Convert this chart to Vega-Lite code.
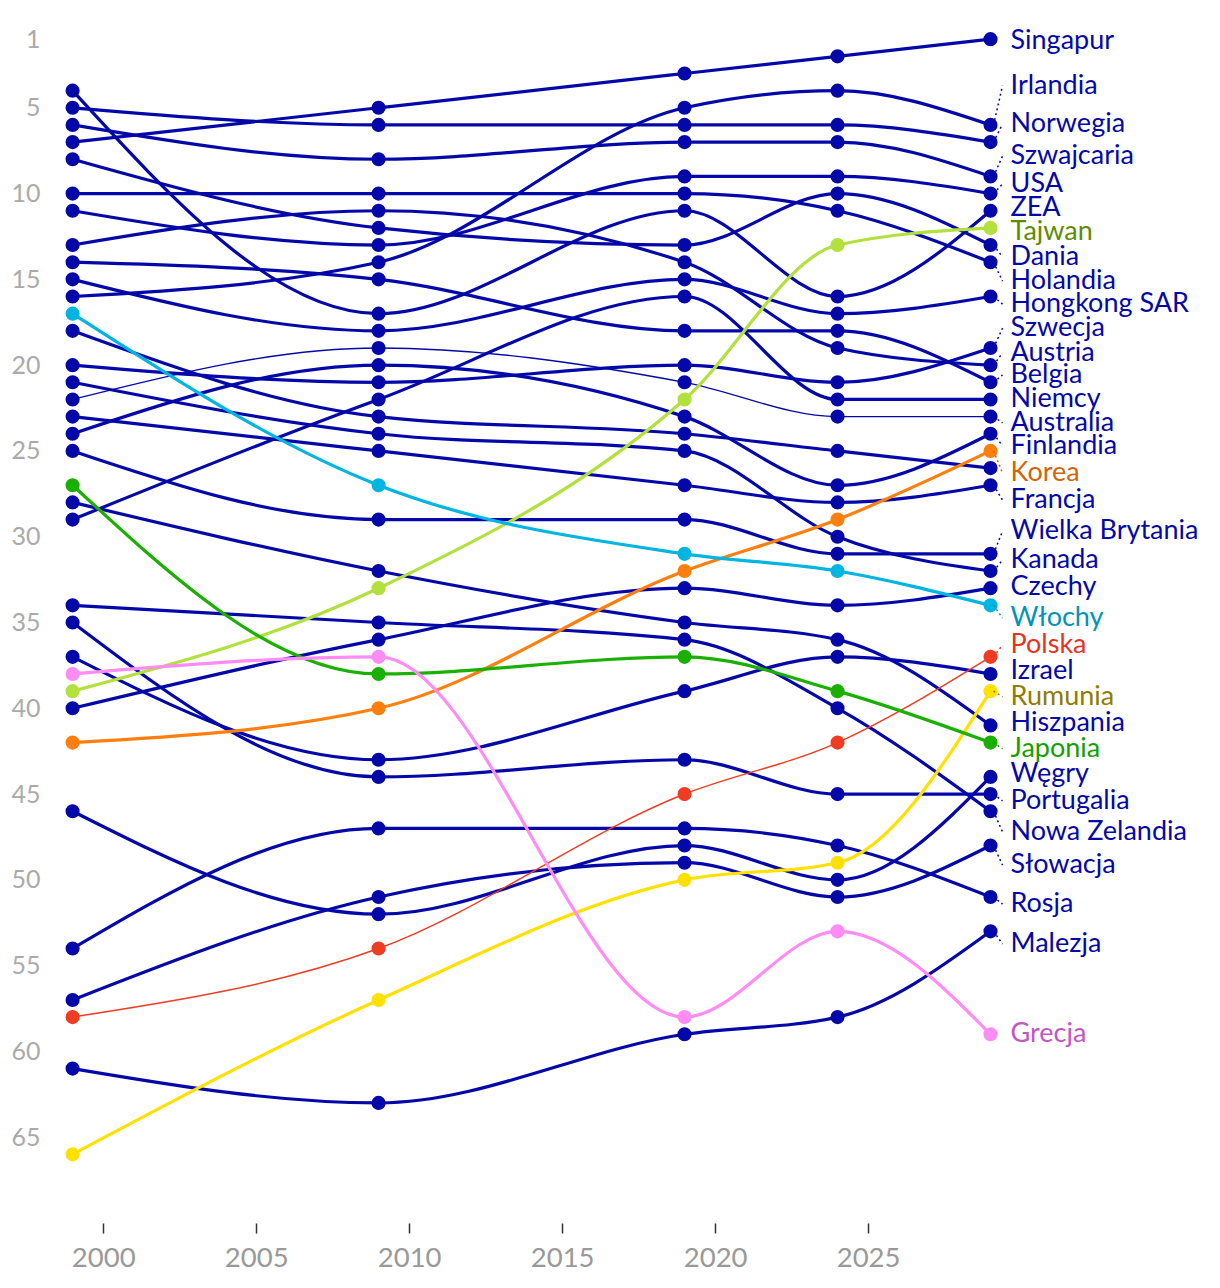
{
"$schema":"https://vega.github.io/schema/vega-lite/v6.json",
"width":1178,"height":1201,
"autosize":{"type":"none"},
"padding":{"left":42,"top":22,"right":0,"bottom":65},
"background":"white",
"config":{"view":{"stroke":null},"font":"Lato"},
"datasets":{
"ranks":[
{"country":"Singapur","year":1999,"rank":7},{"country":"Singapur","year":2009,"rank":5},{"country":"Singapur","year":2019,"rank":3},{"country":"Singapur","year":2024,"rank":2},{"country":"Singapur","year":2029,"rank":1},
{"country":"Irlandia","year":1999,"rank":16},{"country":"Irlandia","year":2009,"rank":14},{"country":"Irlandia","year":2019,"rank":5},{"country":"Irlandia","year":2024,"rank":4},{"country":"Irlandia","year":2029,"rank":6},
{"country":"Norwegia","year":1999,"rank":5},{"country":"Norwegia","year":2009,"rank":6},{"country":"Norwegia","year":2019,"rank":6},{"country":"Norwegia","year":2024,"rank":6},{"country":"Norwegia","year":2029,"rank":7},
{"country":"Szwajcaria","year":1999,"rank":6},{"country":"Szwajcaria","year":2009,"rank":8},{"country":"Szwajcaria","year":2019,"rank":7},{"country":"Szwajcaria","year":2024,"rank":7},{"country":"Szwajcaria","year":2029,"rank":9},
{"country":"USA","year":1999,"rank":11},{"country":"USA","year":2009,"rank":13},{"country":"USA","year":2019,"rank":9},{"country":"USA","year":2024,"rank":9},{"country":"USA","year":2029,"rank":10},
{"country":"ZEA","year":1999,"rank":4},{"country":"ZEA","year":2009,"rank":17},{"country":"ZEA","year":2019,"rank":11},{"country":"ZEA","year":2024,"rank":16},{"country":"ZEA","year":2029,"rank":11},
{"country":"Tajwan","year":1999,"rank":39},{"country":"Tajwan","year":2009,"rank":33},{"country":"Tajwan","year":2019,"rank":22},{"country":"Tajwan","year":2024,"rank":13},{"country":"Tajwan","year":2029,"rank":12},
{"country":"Dania","year":1999,"rank":8},{"country":"Dania","year":2009,"rank":12},{"country":"Dania","year":2019,"rank":13},{"country":"Dania","year":2024,"rank":10},{"country":"Dania","year":2029,"rank":13},
{"country":"Holandia","year":1999,"rank":10},{"country":"Holandia","year":2009,"rank":10},{"country":"Holandia","year":2019,"rank":10},{"country":"Holandia","year":2024,"rank":11},{"country":"Holandia","year":2029,"rank":14},
{"country":"Hongkong SAR","year":1999,"rank":15},{"country":"Hongkong SAR","year":2009,"rank":18},{"country":"Hongkong SAR","year":2019,"rank":15},{"country":"Hongkong SAR","year":2024,"rank":17},{"country":"Hongkong SAR","year":2029,"rank":16},
{"country":"Szwecja","year":1999,"rank":20},{"country":"Szwecja","year":2009,"rank":21},{"country":"Szwecja","year":2019,"rank":20},{"country":"Szwecja","year":2024,"rank":21},{"country":"Szwecja","year":2029,"rank":19},
{"country":"Austria","year":1999,"rank":13},{"country":"Austria","year":2009,"rank":11},{"country":"Austria","year":2019,"rank":14},{"country":"Austria","year":2024,"rank":19},{"country":"Austria","year":2029,"rank":20},
{"country":"Belgia","year":1999,"rank":14},{"country":"Belgia","year":2009,"rank":15},{"country":"Belgia","year":2019,"rank":18},{"country":"Belgia","year":2024,"rank":18},{"country":"Belgia","year":2029,"rank":21},
{"country":"Niemcy","year":1999,"rank":29},{"country":"Niemcy","year":2009,"rank":22},{"country":"Niemcy","year":2019,"rank":16},{"country":"Niemcy","year":2024,"rank":22},{"country":"Niemcy","year":2029,"rank":22},
{"country":"Australia","year":1999,"rank":22},{"country":"Australia","year":2009,"rank":19},{"country":"Australia","year":2019,"rank":21},{"country":"Australia","year":2024,"rank":23},{"country":"Australia","year":2029,"rank":23},
{"country":"Finlandia","year":1999,"rank":24},{"country":"Finlandia","year":2009,"rank":20},{"country":"Finlandia","year":2019,"rank":23},{"country":"Finlandia","year":2024,"rank":27},{"country":"Finlandia","year":2029,"rank":24},
{"country":"Korea","year":1999,"rank":42},{"country":"Korea","year":2009,"rank":40},{"country":"Korea","year":2019,"rank":32},{"country":"Korea","year":2024,"rank":29},{"country":"Korea","year":2029,"rank":25},
{"country":"Inny kraj","year":1999,"rank":18},{"country":"Inny kraj","year":2009,"rank":23},{"country":"Inny kraj","year":2019,"rank":24},{"country":"Inny kraj","year":2024,"rank":25},{"country":"Inny kraj","year":2029,"rank":26},
{"country":"Francja","year":1999,"rank":23},{"country":"Francja","year":2009,"rank":25},{"country":"Francja","year":2019,"rank":27},{"country":"Francja","year":2024,"rank":28},{"country":"Francja","year":2029,"rank":27},
{"country":"Wielka Brytania","year":1999,"rank":25},{"country":"Wielka Brytania","year":2009,"rank":29},{"country":"Wielka Brytania","year":2019,"rank":29},{"country":"Wielka Brytania","year":2024,"rank":31},{"country":"Wielka Brytania","year":2029,"rank":31},
{"country":"Kanada","year":1999,"rank":21},{"country":"Kanada","year":2009,"rank":24},{"country":"Kanada","year":2019,"rank":25},{"country":"Kanada","year":2024,"rank":30},{"country":"Kanada","year":2029,"rank":32},
{"country":"Czechy","year":1999,"rank":40},{"country":"Czechy","year":2009,"rank":36},{"country":"Czechy","year":2019,"rank":33},{"country":"Czechy","year":2024,"rank":34},{"country":"Czechy","year":2029,"rank":33},
{"country":"Włochy","year":1999,"rank":17},{"country":"Włochy","year":2009,"rank":27},{"country":"Włochy","year":2019,"rank":31},{"country":"Włochy","year":2024,"rank":32},{"country":"Włochy","year":2029,"rank":34},
{"country":"Polska","year":1999,"rank":58},{"country":"Polska","year":2009,"rank":54},{"country":"Polska","year":2019,"rank":45},{"country":"Polska","year":2024,"rank":42},{"country":"Polska","year":2029,"rank":37},
{"country":"Izrael","year":1999,"rank":37},{"country":"Izrael","year":2009,"rank":43},{"country":"Izrael","year":2019,"rank":39},{"country":"Izrael","year":2024,"rank":37},{"country":"Izrael","year":2029,"rank":38},
{"country":"Rumunia","year":1999,"rank":66},{"country":"Rumunia","year":2009,"rank":57},{"country":"Rumunia","year":2019,"rank":50},{"country":"Rumunia","year":2024,"rank":49},{"country":"Rumunia","year":2029,"rank":39},
{"country":"Hiszpania","year":1999,"rank":28},{"country":"Hiszpania","year":2009,"rank":32},{"country":"Hiszpania","year":2019,"rank":35},{"country":"Hiszpania","year":2024,"rank":36},{"country":"Hiszpania","year":2029,"rank":41},
{"country":"Japonia","year":1999,"rank":27},{"country":"Japonia","year":2009,"rank":38},{"country":"Japonia","year":2019,"rank":37},{"country":"Japonia","year":2024,"rank":39},{"country":"Japonia","year":2029,"rank":42},
{"country":"Węgry","year":1999,"rank":46},{"country":"Węgry","year":2009,"rank":52},{"country":"Węgry","year":2019,"rank":48},{"country":"Węgry","year":2024,"rank":50},{"country":"Węgry","year":2029,"rank":44},
{"country":"Portugalia","year":1999,"rank":35},{"country":"Portugalia","year":2009,"rank":44},{"country":"Portugalia","year":2019,"rank":43},{"country":"Portugalia","year":2024,"rank":45},{"country":"Portugalia","year":2029,"rank":45},
{"country":"Nowa Zelandia","year":1999,"rank":34},{"country":"Nowa Zelandia","year":2009,"rank":35},{"country":"Nowa Zelandia","year":2019,"rank":36},{"country":"Nowa Zelandia","year":2024,"rank":40},{"country":"Nowa Zelandia","year":2029,"rank":46},
{"country":"Słowacja","year":1999,"rank":57},{"country":"Słowacja","year":2009,"rank":51},{"country":"Słowacja","year":2019,"rank":49},{"country":"Słowacja","year":2024,"rank":51},{"country":"Słowacja","year":2029,"rank":48},
{"country":"Rosja","year":1999,"rank":54},{"country":"Rosja","year":2009,"rank":47},{"country":"Rosja","year":2019,"rank":47},{"country":"Rosja","year":2024,"rank":48},{"country":"Rosja","year":2029,"rank":51},
{"country":"Malezja","year":1999,"rank":61},{"country":"Malezja","year":2009,"rank":63},{"country":"Malezja","year":2019,"rank":59},{"country":"Malezja","year":2024,"rank":58},{"country":"Malezja","year":2029,"rank":53},
{"country":"Grecja","year":1999,"rank":38},{"country":"Grecja","year":2009,"rank":37},{"country":"Grecja","year":2019,"rank":58},{"country":"Grecja","year":2024,"rank":53},{"country":"Grecja","year":2029,"rank":59}
],
"labels":[
{"country":"Singapur","year":2029,"rank":1,"labelRank":1.09},
{"country":"Irlandia","year":2029,"rank":6,"labelRank":3.71},
{"country":"Norwegia","year":2029,"rank":7,"labelRank":5.95},
{"country":"Szwajcaria","year":2029,"rank":9,"labelRank":7.81},
{"country":"USA","year":2029,"rank":10,"labelRank":9.44},
{"country":"ZEA","year":2029,"rank":11,"labelRank":10.84},
{"country":"Tajwan","year":2029,"rank":12,"labelRank":12.24},
{"country":"Dania","year":2029,"rank":13,"labelRank":13.7},
{"country":"Holandia","year":2029,"rank":14,"labelRank":15.1},
{"country":"Hongkong SAR","year":2029,"rank":16,"labelRank":16.44},
{"country":"Szwecja","year":2029,"rank":19,"labelRank":17.84},
{"country":"Austria","year":2029,"rank":20,"labelRank":19.29},
{"country":"Belgia","year":2029,"rank":21,"labelRank":20.57},
{"country":"Niemcy","year":2029,"rank":22,"labelRank":21.97},
{"country":"Australia","year":2029,"rank":23,"labelRank":23.37},
{"country":"Finlandia","year":2029,"rank":24,"labelRank":24.71},
{"country":"Korea","year":2029,"rank":25,"labelRank":26.29},
{"country":"Francja","year":2029,"rank":27,"labelRank":27.86},
{"country":"Wielka Brytania","year":2029,"rank":31,"labelRank":29.67},
{"country":"Kanada","year":2029,"rank":32,"labelRank":31.36},
{"country":"Czechy","year":2029,"rank":33,"labelRank":32.93},
{"country":"Włochy","year":2029,"rank":34,"labelRank":34.74},
{"country":"Polska","year":2029,"rank":37,"labelRank":36.31},
{"country":"Izrael","year":2029,"rank":38,"labelRank":37.83},
{"country":"Rumunia","year":2029,"rank":39,"labelRank":39.34},
{"country":"Hiszpania","year":2029,"rank":41,"labelRank":40.86},
{"country":"Japonia","year":2029,"rank":42,"labelRank":42.37},
{"country":"Węgry","year":2029,"rank":44,"labelRank":43.83},
{"country":"Portugalia","year":2029,"rank":45,"labelRank":45.4},
{"country":"Nowa Zelandia","year":2029,"rank":46,"labelRank":47.21},
{"country":"Słowacja","year":2029,"rank":48,"labelRank":49.14},
{"country":"Rosja","year":2029,"rank":51,"labelRank":51.41},
{"country":"Malezja","year":2029,"rank":53,"labelRank":53.74},
{"country":"Grecja","year":2029,"rank":59,"labelRank":58.98}
]
},
"encoding":{
"x":{"field":"year","type":"quantitative","scale":{"domain":[1998,2036.5],"nice":false,"zero":false},
"axis":{"values":[2000,2005,2010,2015,2020,2025],"format":"d","title":null,"domain":false,"grid":false,"ticks":true,"tickColor":"#333333","tickSize":10,"tickWidth":1.5,"labelFontSize":27.5,"labelColor":"#999999","labelPadding":11,"labelFont":"Lato"}},
"y":{"field":"rank","type":"quantitative","scale":{"domain":[0,70],"reverse":true,"nice":false,"zero":false},
"axis":{"values":[1,5,10,15,20,25,30,35,40,45,50,55,60,65],"title":null,"domain":false,"grid":false,"ticks":false,"labelFontSize":25,"labelColor":"#aaaaaa","labelPadding":2,"labelFont":"Lato"}}
},
"layer":[
{"data":{"name":"ranks"},
 "transform":[{"filter":"indexof(['Tajwan','Korea','Włochy','Polska','Rumunia','Japonia','Grecja'], datum.country) < 0"}],
 "mark":{"type":"line","interpolate":"monotone","strokeCap":"round"},
 "encoding":{"detail":{"field":"country"},
  "color":{"value":"#0508a8"},
  "strokeWidth":{"condition":{"test":"datum.country === 'Australia'","value":1.3},"value":3.2}}},
{"data":{"name":"ranks"},
 "transform":[{"filter":"indexof(['Tajwan','Korea','Włochy','Polska','Rumunia','Japonia','Grecja'], datum.country) >= 0"}],
 "mark":{"type":"line","interpolate":"monotone","strokeCap":"round"},
 "encoding":{"detail":{"field":"country"},
  "color":{"condition":[
   {"test":"datum.country === 'Tajwan'","value":"#b2e03c"},
   {"test":"datum.country === 'Korea'","value":"#ff7f0e"},
   {"test":"datum.country === 'Włochy'","value":"#00b5e2"},
   {"test":"datum.country === 'Polska'","value":"#f03c22"},
   {"test":"datum.country === 'Rumunia'","value":"#ffe100"},
   {"test":"datum.country === 'Japonia'","value":"#1ab000"},
   {"test":"datum.country === 'Grecja'","value":"#ff8cf5"}],"value":"#0508a8"},
  "strokeWidth":{"condition":{"test":"datum.country === 'Polska'","value":1.5},"value":3.2}}},
{"data":{"name":"ranks"},
 "mark":{"type":"circle","size":200,"opacity":1},
 "encoding":{
  "color":{"condition":[
   {"test":"datum.country === 'Tajwan'","value":"#b2e03c"},
   {"test":"datum.country === 'Korea'","value":"#ff7f0e"},
   {"test":"datum.country === 'Włochy'","value":"#00b5e2"},
   {"test":"datum.country === 'Polska'","value":"#f03c22"},
   {"test":"datum.country === 'Rumunia'","value":"#ffe100"},
   {"test":"datum.country === 'Japonia'","value":"#1ab000"},
   {"test":"datum.country === 'Grecja'","value":"#ff8cf5"}],"value":"#0508a8"}}},
{"data":{"name":"labels"},
 "transform":[{"filter":"abs(datum.labelRank - datum.rank) > 0.3"}],
 "mark":{"type":"rule","strokeDash":[2,3],"strokeWidth":1.5,"xOffset":3,"x2Offset":12},
 "encoding":{"x2":{"field":"year"},"y2":{"field":"labelRank"},
  "color":{"condition":[
   {"test":"datum.country === 'Tajwan'","value":"#5e8c00"},
   {"test":"datum.country === 'Korea'","value":"#d2640a"},
   {"test":"datum.country === 'Włochy'","value":"#0094b8"},
   {"test":"datum.country === 'Polska'","value":"#e8321e"},
   {"test":"datum.country === 'Rumunia'","value":"#8f7d00"},
   {"test":"datum.country === 'Japonia'","value":"#14a000"},
   {"test":"datum.country === 'Grecja'","value":"#c356c3"}],"value":"#0508a8"}}},
{"data":{"name":"labels"},
 "mark":{"type":"text","align":"left","baseline":"middle","dx":20,"fontSize":27,"font":"Lato"},
 "encoding":{"y":{"field":"labelRank","type":"quantitative"},"text":{"field":"country"},
  "color":{"condition":[
   {"test":"datum.country === 'Tajwan'","value":"#5e8c00"},
   {"test":"datum.country === 'Korea'","value":"#d2640a"},
   {"test":"datum.country === 'Włochy'","value":"#0094b8"},
   {"test":"datum.country === 'Polska'","value":"#e8321e"},
   {"test":"datum.country === 'Rumunia'","value":"#8f7d00"},
   {"test":"datum.country === 'Japonia'","value":"#14a000"},
   {"test":"datum.country === 'Grecja'","value":"#c356c3"}],"value":"#0508a8"}}}
]
}
